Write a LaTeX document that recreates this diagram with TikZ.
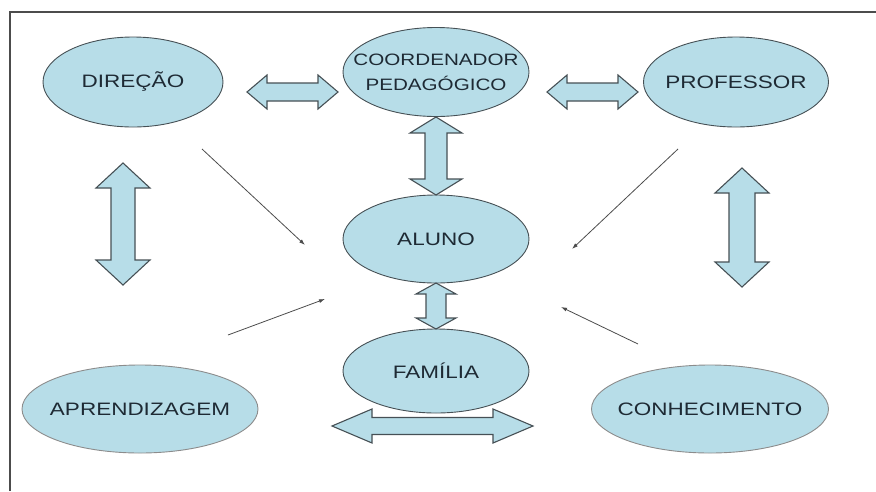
\documentclass[tikz,border=0pt]{standalone}
\usepackage{fontspec}
\newfontfamily\diagfont{Liberation Sans}[FakeStretch=1.25]
\usetikzlibrary{shapes.geometric,arrows.meta}
\definecolor{bubblefill}{RGB}{183,221,232}
\definecolor{bubbleline}{RGB}{70,80,85}
\definecolor{labelcol}{RGB}{30,42,52}
\tikzset{
  bubble/.style={ellipse,draw=bubbleline,line width=0.9pt,fill=bubblefill,inner sep=0pt,
    text=labelcol,align=center,font=\diagfont\fontsize{18}{25}\selectfont},
  palebubble/.style={bubble,draw=black!45},
  blockarrow/.style={draw=bubbleline,line width=1.1pt,fill=bubblefill,line join=miter},
  thinarrow/.style={draw=black!70,line width=0.8pt,-{Latex[length=6pt,width=4pt]}}
}
% zero width label, so the ellipse keeps its own size
\newcommand{\zwlabel}[1]{\makebox[0pt]{#1}}
% horizontal double block arrow: left, right, y, shaft half, head half, head length
\newcommand{\hblockarrow}[6]{%
  \draw[blockarrow](#1,#3)--++(#6,-#5)--++(0,#5-#4)--(#2-#6,#3-#4)--++(0,#4-#5)--(#2,#3)
    --++(-#6,#5)--++(0,#4-#5)--(#1+#6,#3+#4)--++(0,#5-#4)--cycle;}
% vertical double block arrow: x, top, bottom, shaft half, head half, head length
\newcommand{\vblockarrow}[6]{%
  \draw[blockarrow](#1,#2)--++(#5,#6)--++(#4-#5,0)--(#1+#4,#3-#6)--++(#5-#4,0)--(#1,#3)
    --++(-#5,-#6)--++(#5-#4,0)--(#1-#4,#2+#6)--++(#4-#5,0)--cycle;}
\begin{document}
\begin{tikzpicture}[x=1pt,y=-1pt]
    \useasboundingbox(0,0)rectangle(876,491);
    \draw[line width=1.6pt,black!70](10,491)--(10,12)--(876,12);
    \node[bubble,minimum width=180pt,minimum height=90pt](direcao)at(133,82){\zwlabel{DIREÇÃO}};
    \node[bubble,minimum width=186pt,minimum height=89pt,font=\diagfont\fontsize{16.5}{25}\selectfont](coord)at(436,72){\zwlabel{COORDENADOR}\\\zwlabel{PEDAGÓGICO}};
    \node[bubble,minimum width=185pt,minimum height=90pt](prof)at(736,82){\zwlabel{PROFESSOR}};
    \node[bubble,minimum width=186pt,minimum height=88pt](aluno)at(436,239){\zwlabel{ALUNO}};
    \node[bubble,minimum width=186pt,minimum height=84pt](familia)at(436,371){\zwlabel{FAMÍLIA}};
    \node[palebubble,minimum width=236pt,minimum height=88pt](aprend)at(140,409){\zwlabel{APRENDIZAGEM}};
    \node[palebubble,minimum width=237pt,minimum height=88pt](conhec)at(710,409){\zwlabel{CONHECIMENTO}};
    \hblockarrow{247}{338}{92}{9}{17}{20}
    \hblockarrow{547}{638}{92}{9}{17}{20}
    \vblockarrow{436}{117}{195}{11}{26}{16}
    \vblockarrow{436}{283}{329}{10}{20}{11}
    \hblockarrow{332}{533}{426}{8.5}{17}{40}
    \vblockarrow{123}{163}{285}{12}{27}{25}
    \vblockarrow{742}{168}{287}{13}{27}{25}
    \coordinate(dirfrom)at(202,149);\coordinate(dirto)at(305,245);
    \coordinate(aprfrom)at(228,335);\coordinate(aprto)at(325,299);
    \coordinate(proffrom)at(678,149);\coordinate(profto)at(572,249);
    \coordinate(conhfrom)at(638,344);\coordinate(conhto)at(561,307);
    \draw[thinarrow](dirfrom)--(dirto);
    \draw[thinarrow](aprfrom)--(aprto);
    \draw[thinarrow](proffrom)--(profto);
    \draw[thinarrow](conhfrom)--(conhto);
\end{tikzpicture}
\end{document}
